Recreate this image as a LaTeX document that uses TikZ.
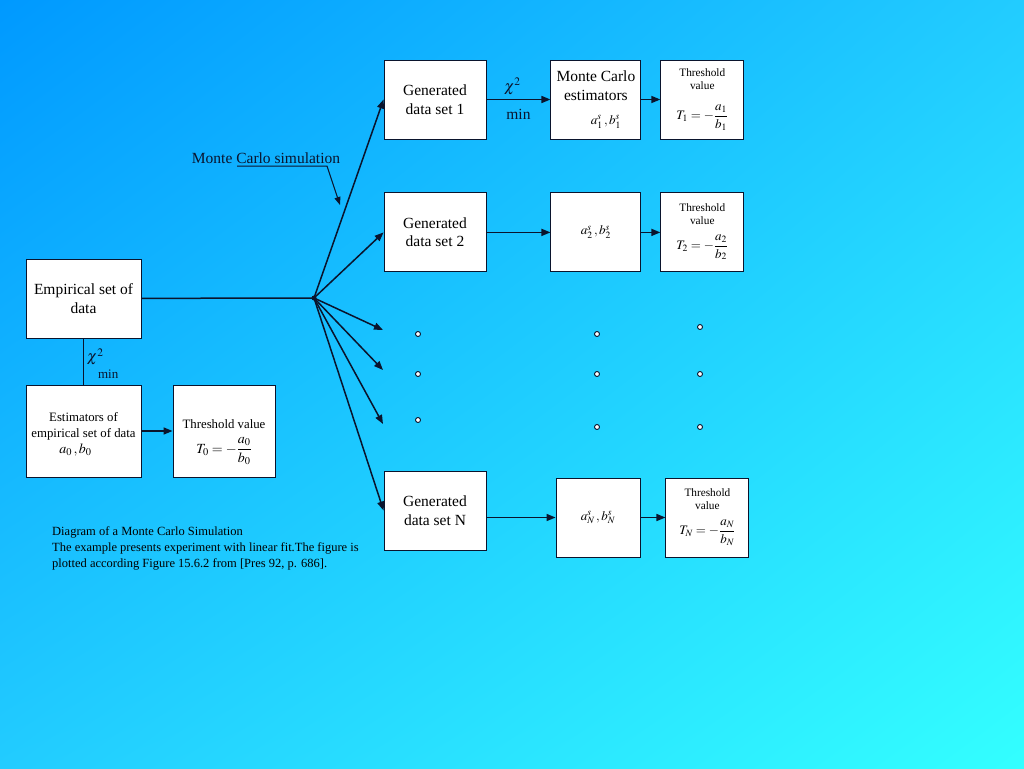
\documentclass[tikz,border=0pt]{standalone}
\usepackage{amsmath}
\usepackage{mathptmx}
\usepackage{fontspec}
\setmainfont{Liberation Serif}
\usetikzlibrary{arrows.meta, positioning, shadings}
\definecolor{bgtl}{RGB}{0,153,255}
\definecolor{bgmid}{RGB}{34,204,255}
\definecolor{bgbr}{RGB}{51,255,255}
\definecolor{ink}{RGB}{10,20,45}
\newcommand{\fs}[1]{\fontsize{#1}{1.2\dimexpr#1pt\relax}\selectfont}
\tikzset{
  >={Triangle[length=9pt,width=7pt]},
  base/.style = {rectangle, draw=ink, fill=white, text=black,
                 align=center, inner sep=1pt, line width=0.9pt},
  gendata/.style = {base, minimum width=102pt, minimum height=79pt,
                    font=\fontsize{15.5}{18.5}\selectfont},
  estbox/.style = {base, minimum width=90pt, minimum height=79pt,
                   font=\fontsize{15.5}{19}\selectfont},
  thrbox/.style = {base, minimum width=83pt, minimum height=79pt,
                   font=\fontsize{11.3}{13}\selectfont},
  smallbox/.style = {base, font=\fontsize{12.8}{16}\selectfont},
  flow/.style = {->, draw=ink, line width=1.5pt},
  gap/.style = {circle, draw=ink, fill=white, inner sep=0pt,
                minimum size=5pt, line width=0.9pt},
  note/.style = {text=ink, inner sep=0pt, font=\fontsize{15.5}{18}\selectfont},
}

\begin{document}
\begin{tikzpicture}[x=1pt, y=-1pt]

  % background
  \shade[upper left=bgtl, upper right=bgmid, lower left=bgmid, lower right=bgbr]
    (0,0) rectangle (1024,768);
  \useasboundingbox (0,0) rectangle (1024,768);

  % empirical data
  \node (emp) [base, minimum width=115pt, minimum height=79pt,
               font=\fontsize{15.5}{19}\selectfont] at (83.5,298.5) {Empirical set of\\data};
  \node (estim) [smallbox, minimum width=115pt, minimum height=92pt] at (83.5,431)
    {\rule{0pt}{15pt}Estimators of\\empirical set of data\\\hspace*{-16pt}{\fs{14}$a_0\,,b_0$}};
  \node (thr0) [smallbox, minimum width=102pt, minimum height=92pt] at (224,431)
    {\rule{0pt}{31pt}Threshold value\\[9pt]{\fs{14}$T_0=-\dfrac{a_0}{b_0}$}};

  % generated data sets
  \node (gen1) [gendata] at (435,99.5) {Generated\\data set 1};
  \node (mc1) [estbox, right=64pt of gen1]
    {Monte Carlo\\estimators\\[5pt]\hspace*{20pt}{\fs{13}$a_1^s\,,b_1^s$}\rule[-4pt]{0pt}{4pt}};
  \node (thr1) [thrbox, right=19pt of mc1]
    {Threshold\\value\\[14pt]{\fs{13}$T_1=-\dfrac{a_1}{b_1}$}};

  \node (gen2) [gendata, below=53pt of gen1] {Generated\\data set 2};
  \node (mc2) [estbox, right=64pt of gen2] {\fs{13}$a_2^s\,,b_2^s$};
  \node (thr2) [thrbox, right=19pt of mc2]
    {Threshold\\value\\[9pt]{\fs{13}$T_2=-\dfrac{a_2}{b_2}$}\rule[-12pt]{0pt}{12pt}};

  \node (genN) [gendata] at (435,510.5) {Generated\\data set N};
  \node (mcN) [estbox, minimum width=84pt] at (598,517.5) {\fs{13}$a_N^s\,,b_N^s$};
  \node (thrN) [thrbox, right=25pt of mcN]
    {Threshold\\value\\[9pt]{\fs{13}$T_N=-\dfrac{a_N}{b_N}$}\rule[-12pt]{0pt}{12pt}};

  % dots
  \foreach \x/\y [count=\i] in {418/334, 418/374, 418/420, 597/334, 597/374,
                                597/427, 700/327, 700/374, 700/427}
    \node (dot\i) [gap] at (\x,\y) {};

  % labels
  \node (mcsim) [note] at (266,158) {Monte Carlo simulation};
  \node (caption) [note, text=black, anchor=north west, align=left,
                   font=\fontsize{12.5}{16}\selectfont] at (52,526)
    {Diagram of a Monte Carlo Simulation\\
     The example presents experiment with linear fit.The figure is\\
     plotted according Figure 15.6.2 from [Pres 92, p. 686].};

  \coordinate (hub) at (314,298);
  \coordinate (fan1) at (383,330);
  \coordinate (fan2) at (383,370);
  \coordinate (fan3) at (383,424);
  \coordinate (ulstart) at (237,166);
  \coordinate (ulbend) at (327,166);
  \coordinate (mctip) at (340,205);

  % connectors
  \draw[ink, line width=1.2pt] (emp) -- node[note, pos=0.4, right=3pt] {$\chi^2$}
          node[note, pos=0.78, right=14pt, font=\fontsize{13}{15}\selectfont] {min} (estim);
  \draw[flow] (estim) -- (thr0);
  \draw[ink, line width=1.5pt] (emp) -- (hub);
  \fill[ink] (hub) circle (2.5pt);
  \foreach \t in {gen1.west, gen2.west, fan1, fan2, fan3, genN.west}
    \draw[flow] (hub) -- (\t);
  \draw[ink, line width=1pt, -{Triangle[length=8pt,width=6pt]}] (ulstart) -- (ulbend) -- (mctip);

  \draw[flow] (gen1) -- node[note, above=4pt, xshift=-6pt] {$\chi^2$}
                        node[note, below=9pt] {min} (mc1);
  \draw[flow] (mc1) -- (thr1);
  \draw[flow] (gen2) -- (mc2);
  \draw[flow] (mc2) -- (thr2);
  \draw[flow] (genN.east |- mcN.west) -- (mcN);
  \draw[flow] (mcN) -- (thrN);

\end{tikzpicture}
\end{document}
